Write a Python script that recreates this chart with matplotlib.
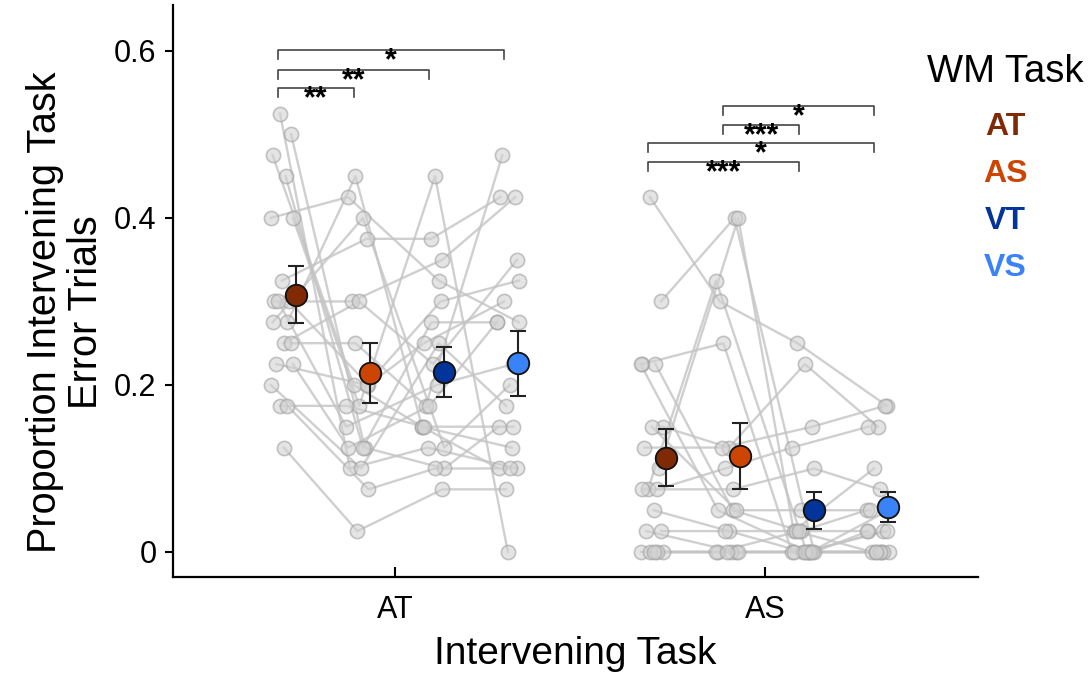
import numpy as np
import matplotlib
matplotlib.use('Agg')
import matplotlib.pyplot as plt
from matplotlib.ticker import FuncFormatter

plt.rcParams["font.family"] = ["Liberation Sans", "DejaVu Sans"]

# intervening task groups on the x axis, WM task conditions inside each group
GROUPS = ["AT", "AS"]
WM_TASKS = ["AT", "AS", "VT", "VS"]
WM_COLORS = ["#7f2a04", "#cc4503", "#03349a", "#3a82f7"]

# per-subject error proportions, intervening task AT (columns: WM AT, AS, VT, VS)
at_wm_at = [0.525, 0.50, 0.475, 0.45, 0.40, 0.40, 0.325, 0.30, 0.30, 0.30,
            0.275, 0.275, 0.25, 0.25, 0.225, 0.225, 0.20, 0.175, 0.175, 0.125]
at_wm_as = [0.10, 0.125, 0.20, 0.125, 0.425, 0.175, 0.375, 0.30, 0.20, 0.15,
            0.45, 0.40, 0.30, 0.25, 0.20, 0.125, 0.10, 0.175, 0.075, 0.025]
at_wm_vt = [0.125, 0.10, 0.15, 0.275, 0.325, 0.45, 0.375, 0.35, 0.25, 0.20,
            0.15, 0.125, 0.225, 0.175, 0.30, 0.175, 0.25, 0.15, 0.10, 0.075]
at_wm_vs = [0.10, 0.15, 0.125, 0.275, 0.275, 0.0, 0.425, 0.425, 0.30, 0.225,
            0.10, 0.20, 0.35, 0.475, 0.325, 0.275, 0.175, 0.15, 0.10, 0.075]

# intervening task AS
as_wm_at = [0.425, 0.30, 0.225, 0.225, 0.225, 0.15, 0.15, 0.125, 0.10, 0.075,
            0.075, 0.075, 0.05, 0.025, 0.025, 0.0, 0.0, 0.0, 0.0, 0.0]
as_wm_as = [0.30, 0.40, 0.25, 0.05, 0.05, 0.125, 0.05, 0.125, 0.40, 0.325,
            0.10, 0.075, 0.025, 0.025, 0.0, 0.0, 0.0, 0.0, 0.0, 0.0]
as_wm_vt = [0.25, 0.0, 0.0, 0.025, 0.0, 0.225, 0.05, 0.15, 0.025, 0.0,
            0.125, 0.10, 0.0, 0.025, 0.0, 0.025, 0.0, 0.0, 0.0, 0.0]
as_wm_vs = [0.175, 0.025, 0.0, 0.05, 0.0, 0.15, 0.05, 0.175, 0.10, 0.025,
            0.15, 0.075, 0.025, 0.0, 0.05, 0.025, 0.0, 0.0, 0.0, 0.0]

# group means and SEM
means_at = [0.308, 0.214, 0.216, 0.226]
sems_at = [0.034, 0.036, 0.030, 0.039]
means_as = [0.113, 0.115, 0.050, 0.054]
sems_as = [0.034, 0.040, 0.022, 0.018]

# significance brackets: (group, wm a, wm b, height, stars)
sig_pairs = [
    (0, 0, 3, 0.601, "*"),
    (0, 0, 2, 0.577, "**"),
    (0, 0, 1, 0.556, "**"),
    (1, 1, 3, 0.534, "*"),
    (1, 1, 2, 0.511, "***"),
    (1, 0, 3, 0.490, "*"),
    (1, 0, 2, 0.467, "***"),
]

subjects = [np.array([at_wm_at, at_wm_as, at_wm_vt, at_wm_vs]),
            np.array([as_wm_at, as_wm_as, as_wm_vt, as_wm_vs])]
means = [means_at, means_as]
sems = [sems_at, sems_as]

col_off = np.array([-0.316, -0.112, 0.093, 0.295])   # individual points
mean_off = np.array([-0.268, -0.068, 0.132, 0.332])  # group means
jitter = np.array([0.0, 0.03, -0.02, 0.015, -0.025, 0.035, 0.005, -0.015, 0.025, -0.005,
                   0.02, -0.02, 0.01, 0.03, -0.01, 0.035, -0.025, 0.0, 0.02, 0.01])

fig = plt.figure(figsize=(10.89, 6.73), dpi=100)
ax = fig.add_axes([0.159, 0.1426, 0.739, 0.85])

for g, data in enumerate(subjects):
    n = data.shape[1]
    for s in range(n):
        xs = g + col_off + np.array([jitter[(s + 7 * c) % n] for c in range(4)]) + 0.005
        ax.plot(xs, data[:, s], color="#c4c4c4", lw=1.7, alpha=0.8, zorder=1)
        ax.scatter(xs, data[:, s], s=105, facecolor="#d2d2d2", edgecolor="#a0a0a0",
                   linewidth=1.2, alpha=0.6, zorder=2)
    for c in range(4):
        ax.errorbar(g + mean_off[c], means[g][c], yerr=sems[g][c], fmt="none",
                    ecolor="#222222", elinewidth=1.5, capsize=6, capthick=1.5, zorder=3)
        ax.plot(g + mean_off[c], means[g][c], "o", ms=15.5, mfc=WM_COLORS[c],
                mec="#111111", mew=1.3, zorder=4)

for g, a, b, y, stars in sig_pairs:
    x1, x2 = g + col_off[a], g + col_off[b]
    ax.plot([x1, x1, x2, x2], [y - 0.011, y, y, y - 0.011], color="#444444", lw=1.2, zorder=3)
    # asterisk ink sits high in the glyph box, so drop the baseline below the line
    ax.text((x1 + x2) / 2, y - 0.023, stars, ha="center", va="baseline", fontsize=22,
            fontweight="bold", color="black", zorder=4)

ax.set_xlim(-0.6, 1.576)
ax.set_ylim(-0.03, 0.655)
ax.set_xticks([0, 1])
ax.set_xticklabels(GROUPS)
ax.set_yticks([0, 0.2, 0.4, 0.6])
ax.yaxis.set_major_formatter(FuncFormatter(lambda v, p: "0" if v == 0 else f"{v:.1f}"))
ax.tick_params(axis="x", direction="in", length=7, width=1.5, labelsize=22, pad=13)
ax.tick_params(axis="y", direction="out", length=6, width=1.5, labelsize=22, pad=6)
for side in ["top", "right"]:
    ax.spines[side].set_visible(False)
for side in ["left", "bottom"]:
    ax.spines[side].set_linewidth(1.6)

ax.set_xlabel("Intervening Task", fontsize=28, labelpad=8)
ax.set_ylabel("Proportion Intervening Task\nError Trials", fontsize=28.5, linespacing=1.1)
ax.yaxis.set_label_coords(-0.085, 0.463)

# legend as coloured labels
fig.text(1005 / 1089, 1 - 72 / 673, "WM Task", ha="center", va="center", fontsize=27.5)
for i, (name, col) in enumerate(zip(WM_TASKS, WM_COLORS)):
    fig.text(1005 / 1089, 1 - (127 + 47 * i) / 673, name, ha="center", va="center",
             fontsize=23, fontweight="bold", color=col)

fig.savefig("out.png", dpi=100)
